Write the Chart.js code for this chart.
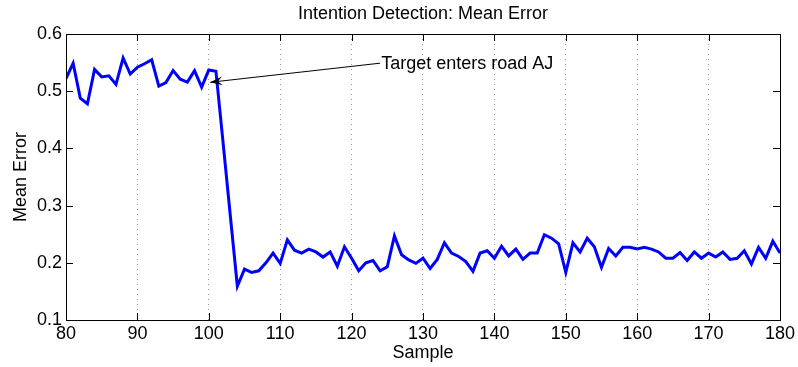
<!DOCTYPE html>
<html>
<head>
<meta charset="utf-8">
<script src="https://cdn.jsdelivr.net/npm/chart.js@4.4.1/dist/chart.umd.min.js"></script>
<style>
  html, body { margin: 0; padding: 0; background: #fff; }
  #wrap { width: 798px; height: 367px; }
</style>
</head>
<body>
<div id="wrap"><canvas id="errChart" width="798" height="367"></canvas></div>
<script>
// Intention detection - mean error per sample
const samples = [
    80, 81, 82, 83, 84, 85, 86, 87, 88, 89,
    90, 91, 92, 93, 94, 95, 96, 97, 98, 99,
    100, 101, 102, 103, 104, 105, 106, 107, 108, 109,
    110, 111, 112, 113, 114, 115, 116, 117, 118, 119,
    120, 121, 122, 123, 124, 125, 126, 127, 128, 129,
    130, 131, 132, 133, 134, 135, 136, 137, 138, 139,
    140, 141, 142, 143, 144, 145, 146, 147, 148, 149,
    150, 151, 152, 153, 154, 155, 156, 157, 158, 159,
    160, 161, 162, 163, 164, 165, 166, 167, 168, 169,
    170, 171, 172, 173, 174, 175, 176, 177, 178, 179, 180
];
const meanError = [
    0.522, 0.549, 0.488, 0.478, 0.538, 0.525, 0.527, 0.512, 0.558, 0.530,
    0.542, 0.548, 0.555, 0.509, 0.515, 0.536, 0.521, 0.516, 0.536, 0.507,
    0.537, 0.535, 0.410, 0.284, 0.159, 0.189, 0.183, 0.186, 0.200, 0.217,
    0.199, 0.240, 0.222, 0.217, 0.224, 0.219, 0.210, 0.219, 0.194, 0.228,
    0.208, 0.186, 0.200, 0.204, 0.186, 0.193, 0.247, 0.214, 0.205, 0.199,
    0.208, 0.190, 0.206, 0.235, 0.217, 0.211, 0.202, 0.185, 0.217, 0.221,
    0.208, 0.229, 0.212, 0.224, 0.206, 0.217, 0.217, 0.249, 0.243, 0.233,
    0.183, 0.235, 0.219, 0.243, 0.228, 0.192, 0.225, 0.212, 0.227, 0.227,
    0.224, 0.227, 0.224, 0.219, 0.208, 0.208, 0.218, 0.204, 0.219, 0.208,
    0.217, 0.210, 0.219, 0.206, 0.208, 0.221, 0.198, 0.227, 0.208, 0.238, 0.217
];
const xTicks = [80, 90, 100, 110, 120, 130, 140, 150, 160, 170, 180];
const yTicks = [0.1, 0.2, 0.3, 0.4, 0.5, 0.6];

const titleText = 'Intention Detection: Mean Error';

// annotation: arrow tip and text anchor, in data units
const noteText = 'Target enters road AJ';
const noteTip = { x: 100.2, y: 0.5156 };
const noteAt = { x: 124, y: 0.549 };

const fontFamily = '"Liberation Sans", Arial, Helvetica, sans-serif';
const fontSize = 18;

// title centred on the plot box, box frame, inward ticks and the annotation
const framePlugin = {
    id: 'frame',
    afterDatasetsDraw(chart) {
        const ctx = chart.ctx;
        const a = chart.chartArea;
        const xs = chart.scales.x, ys = chart.scales.y;
        const tl = 7;
        ctx.save();
        ctx.strokeStyle = '#000';
        ctx.lineWidth = 1;
        ctx.beginPath();
        xTicks.forEach(v => {
            const px = Math.round(xs.getPixelForValue(v)) + 0.5;
            ctx.moveTo(px, a.bottom); ctx.lineTo(px, a.bottom - tl);
            ctx.moveTo(px, a.top); ctx.lineTo(px, a.top + tl);
        });
        yTicks.forEach(v => {
            const py = Math.round(ys.getPixelForValue(v)) + 0.5;
            ctx.moveTo(a.left, py); ctx.lineTo(a.left + tl, py);
            ctx.moveTo(a.right, py); ctx.lineTo(a.right - tl, py);
        });
        ctx.stroke();
        ctx.strokeRect(Math.round(a.left) + 0.5, Math.round(a.top) + 0.5,
            Math.round(a.right - a.left), Math.round(a.bottom - a.top));

        ctx.fillStyle = '#000';
        ctx.font = fontSize + 'px ' + fontFamily;
        ctx.textAlign = 'center';
        ctx.textBaseline = 'middle';
        ctx.fillText(titleText, (a.left + a.right) / 2, 14);

        // annotation arrow
        const tx = xs.getPixelForValue(noteTip.x), ty = ys.getPixelForValue(noteTip.y);
        const sx = xs.getPixelForValue(noteAt.x), sy = ys.getPixelForValue(noteAt.y);
        ctx.beginPath();
        ctx.moveTo(sx, sy); ctx.lineTo(tx, ty);
        ctx.stroke();
        const ang = Math.atan2(sy - ty, sx - tx);
        const hl = 13, hw = 0.34;
        ctx.beginPath();
        ctx.moveTo(tx, ty);
        ctx.lineTo(tx + hl * Math.cos(ang + hw), ty + hl * Math.sin(ang + hw));
        ctx.lineTo(tx + hl * 0.6 * Math.cos(ang), ty + hl * 0.6 * Math.sin(ang));
        ctx.lineTo(tx + hl * Math.cos(ang - hw), ty + hl * Math.sin(ang - hw));
        ctx.closePath();
        ctx.fill();
        ctx.textAlign = 'left';
        ctx.fillText(noteText, sx + 1, sy + 1);
        ctx.restore();
    }
};

new Chart(document.getElementById('errChart'), {
    type: 'line',
    data: {
        datasets: [{
            data: samples.map((s, i) => ({ x: s, y: meanError[i] })),
            borderColor: '#0000ff',
            borderWidth: 3,
            pointRadius: 0,
            tension: 0,
            fill: false
        }]
    },
    options: {
        responsive: false,
        animation: false,
        layout: { padding: { left: 0, right: 18, top: 34, bottom: 0 } },
        plugins: {
            legend: { display: false },
            tooltip: { enabled: false },
            title: { display: false }
        },
        scales: {
            x: {
                type: 'linear',
                min: 80,
                max: 180,
                afterBuildTicks: s => { s.ticks = xTicks.map(v => ({ value: v })); },
                afterFit: s => { s.height = 47; },
                ticks: {
                    color: '#000',
                    padding: 3,
                    maxRotation: 0,
                    font: { family: fontFamily, size: fontSize }
                },
                grid: {
                    drawTicks: false,
                    color: ctx => (ctx.tick && (ctx.tick.value === 80 || ctx.tick.value === 180)) ? 'rgba(0,0,0,0)' : '#999',
                    lineWidth: 1
                },
                border: { display: false, dash: [1, 4] },
                title: {
                    display: true,
                    text: 'Sample',
                    color: '#000',
                    font: { family: fontFamily, size: fontSize },
                    padding: { top: 0, bottom: 3 }
                }
            },
            y: {
                min: 0.1,
                max: 0.6,
                afterBuildTicks: s => { s.ticks = yTicks.map(v => ({ value: v })); },
                afterFit: s => { s.width = 66; },
                ticks: {
                    color: '#000',
                    padding: 4,
                    font: { family: fontFamily, size: fontSize },
                    callback: v => v.toFixed(1)
                },
                grid: { display: false, drawTicks: false },
                border: { display: false },
                title: {
                    display: true,
                    text: 'Mean Error',
                    color: '#000',
                    font: { family: fontFamily, size: fontSize },
                    padding: { top: 10, bottom: 0 }
                }
            }
        }
    },
    plugins: [framePlugin]
});
</script>
</body>
</html>
